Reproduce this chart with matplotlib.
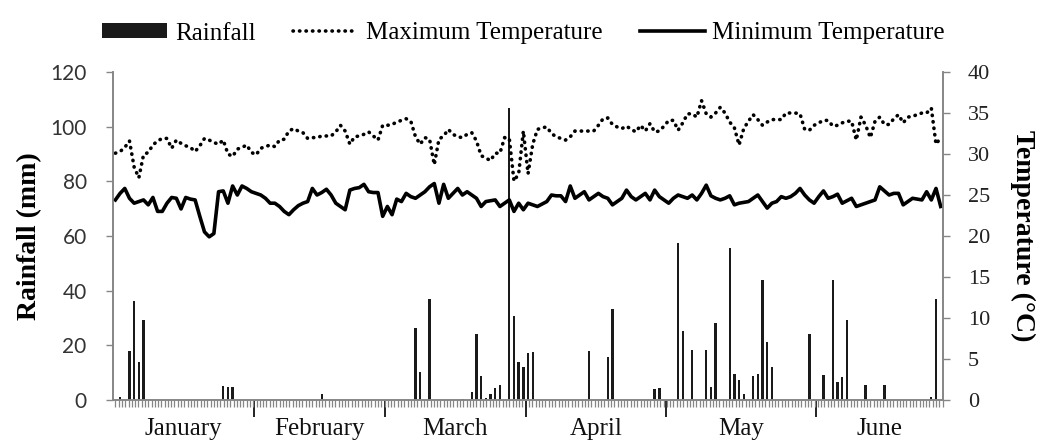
import numpy as np
import matplotlib.pyplot as plt
from matplotlib.ticker import MultipleLocator, FixedLocator

plt.rcParams['font.family'] = ['Liberation Serif', 'DejaVu Serif']

# daily temperatures (°C), day 0 = 1 January
max_temp = [30.1, 30.3, 30.8, 31.6, 28.4, 27.1, 29.9, 30.2, 31.1, 31.6,
            31.9, 31.9, 30.7, 31.7, 31.3, 31.0, 30.8, 30.3, 31.0, 31.9,
            31.7, 31.4, 31.2, 31.7, 30.0, 29.7, 30.6, 30.8, 31.1, 30.2,
            29.9, 30.7, 30.9, 31.1, 30.9, 31.7, 31.8, 32.8, 33.1, 32.8,
            32.6, 31.9, 32.0, 32.0, 32.2, 32.2, 32.2, 32.7, 33.5, 32.8,
            31.2, 32.1, 32.2, 32.4, 32.7, 32.2, 31.7, 33.5, 33.5, 33.6,
            33.9, 34.1, 34.3, 34.0, 32.1, 31.2, 32.0, 31.8, 28.7, 31.8,
            32.2, 33.0, 32.4, 32.1, 32.0, 32.4, 32.6, 31.6, 29.8, 29.5,
            29.2, 30.1, 30.1, 32.0, 31.9, 26.7, 27.6, 32.8, 27.6, 31.2,
            33.0, 33.2, 33.3, 32.5, 32.1, 31.9, 31.7, 32.1, 32.8, 32.8,
            32.8, 32.8, 32.8, 33.5, 34.3, 34.4, 33.6, 33.3, 33.1, 33.4,
            33.0, 32.7, 33.5, 32.8, 33.7, 32.7, 32.8, 33.4, 34.1, 34.1,
            32.9, 33.8, 34.9, 34.9, 34.5, 36.5, 34.9, 34.5, 35.0, 35.7,
            35.0, 33.9, 33.2, 31.1, 33.1, 34.0, 34.8, 34.2, 33.5, 33.9,
            34.2, 34.2, 34.2, 35.0, 35.0, 35.0, 34.9, 33.0, 32.9, 33.5,
            33.8, 34.1, 34.1, 33.4, 33.5, 33.8, 34.0, 34.0, 31.7, 34.5,
            33.5, 32.0, 34.0, 34.5, 33.6, 33.6, 34.3, 34.8, 33.8, 34.5,
            34.6, 34.8, 35.0, 35.0, 35.6, 31.2, 32.0]

min_temp = [24.4, 25.2, 25.8, 24.6, 24.0, 24.2, 24.4, 23.8, 24.7, 23.0,
            23.0, 24.0, 24.7, 24.6, 23.3, 24.7, 24.5, 24.4, 22.4, 20.5,
            19.9, 20.3, 25.4, 25.5, 24.0, 26.1, 25.0, 26.1, 25.8, 25.4,
            25.2, 25.0, 24.6, 24.0, 24.0, 23.6, 23.0, 22.6, 23.2, 23.7,
            24.0, 24.2, 25.8, 25.0, 25.3, 25.7, 25.0, 24.0, 23.6, 23.2,
            25.6, 25.8, 25.9, 26.3, 25.4, 25.3, 25.3, 22.4, 23.6, 22.6,
            24.5, 24.2, 25.2, 24.8, 24.6, 25.0, 25.4, 26.0, 26.4, 24.0,
            26.3, 24.6, 25.2, 25.8, 25.0, 25.4, 25.0, 24.6, 23.6, 24.2,
            24.3, 24.4, 23.6, 24.0, 24.4, 23.0, 24.0, 23.2, 24.0, 23.8,
            23.6, 23.9, 24.2, 25.0, 24.9, 24.9, 24.2, 26.1, 24.6, 25.0,
            25.4, 24.4, 24.8, 25.2, 24.8, 24.6, 23.8, 24.2, 24.6, 25.6,
            24.8, 24.4, 24.8, 25.2, 24.4, 25.6, 24.8, 24.4, 24.0, 24.6,
            25.0, 24.8, 24.6, 25.0, 24.4, 25.2, 26.2, 24.9, 24.6, 24.4,
            24.6, 24.9, 23.8, 24.0, 24.1, 24.2, 24.6, 25.0, 24.2, 23.4,
            24.0, 24.2, 24.8, 24.6, 24.8, 25.2, 25.8, 25.0, 24.4, 24.0,
            24.8, 25.5, 24.6, 24.8, 25.1, 24.0, 24.3, 24.6, 23.6, 23.8,
            24.0, 24.2, 24.4, 26.0, 25.5, 25.0, 25.2, 25.2, 23.8, 24.2,
            24.6, 24.5, 24.4, 25.4, 24.4, 25.8, 23.6]

# rainy days only (day index, mm)
rain_days = [1, 3, 4, 5, 6, 23, 24, 25, 44, 64, 65, 67, 74, 76, 77, 78, 79,
             80, 81, 82, 84, 85, 86, 87, 88, 89, 101, 105, 106, 115, 116,
             120, 121, 123, 126, 127, 128, 131, 132, 133, 134, 136, 137, 138,
             139, 140, 148, 149, 151, 153, 154, 155, 156, 160, 164, 174, 175]
rain_mm = [1.2, 18.0, 36.3, 14.0, 29.3, 5.1, 4.8, 4.8, 2.1, 26.2, 10.1, 36.8,
           0.5, 3.0, 24.0, 8.8, 0.9, 2.2, 4.5, 5.5, 107.0, 30.7, 13.8, 12.2,
           17.1, 17.7, 17.9, 15.9, 33.3, 4.0, 4.5, 57.6, 25.4, 18.3, 18.3,
           4.6, 28.3, 55.7, 9.4, 7.3, 2.2, 8.9, 9.4, 43.9, 21.1, 12.2, 24.0,
           0.5, 9.1, 43.9, 6.5, 8.3, 29.3, 5.5, 5.5, 1.2, 36.8]

months = ['January', 'February', 'March', 'April', 'May', 'June']
month_edges = [-0.5, 29.5, 57.5, 87.5, 117.5, 149.5, 176.5]

days = np.arange(len(min_temp))
grey = '#868686'

fig = plt.figure(figsize=(10.41, 4.41), dpi=100)
ax = fig.add_axes([0.1086, 0.093, 0.7973, 0.7437])
ax2 = ax.twinx()

# rainfall bars
bars = ax.bar(rain_days, rain_mm, width=0.5, color='#1a1a1a', label='Rainfall')

# temperatures
l_max, = ax2.plot(days, max_temp, color='black', linewidth=2.6,
                  linestyle=(0, (0.1, 1.7)), dash_capstyle='round',
                  label='Maximum Temperature')
l_min, = ax2.plot(days, min_temp, color='black', linewidth=2.6,
                  solid_joinstyle='round', label='Minimum Temperature')

ax.set_xlim(month_edges[0], month_edges[-1])
ax.set_ylim(0, 120)
ax2.set_ylim(0, 40)
ax.set_yticks(np.arange(0, 121, 20))
ax2.set_yticks(np.arange(0, 41, 5))

for a in (ax, ax2):
    a.spines['top'].set_visible(False)
    for s in ('left', 'right', 'bottom'):
        a.spines[s].set_color(grey)
        a.spines[s].set_linewidth(1.2)

# left axis: sans digits
ax.tick_params(axis='y', direction='out', length=5, width=1, color=grey,
               pad=14, labelsize=15, labelcolor='#333333')
for t in ax.get_yticklabels():
    t.set_family(['Lato', 'DejaVu Sans'])
ax2.tick_params(axis='y', direction='out', length=5, width=1, color=grey,
                pad=13, labelsize=16, labelcolor='#222222')

# x axis: long ticks at month edges, small ticks along the axis, names centred
ax.xaxis.set_major_locator(FixedLocator(month_edges[1:-1]))
ax.xaxis.set_minor_locator(MultipleLocator(0.7))
ax.set_xticklabels([])
ax.tick_params(axis='x', which='major', direction='out', length=12,
               width=1.4, color='#222222')
ax.tick_params(axis='x', which='minor', direction='out', length=5,
               width=0.9, color=grey)
for i, m in enumerate(months):
    mid = (month_edges[i] + month_edges[i + 1]) / 2
    ax.text(mid, -0.055, m, transform=ax.get_xaxis_transform(),
            ha='center', va='top', fontsize=18, color='#111111')

ax.set_ylabel('Rainfall (mm)', fontsize=20, fontweight='bold', va='center')
ax.yaxis.set_label_coords(-0.1, 0.5)
ax2.set_ylabel('Temperature (°C)', fontsize=20, fontweight='bold',
               rotation=270, va='center')
ax2.yaxis.set_label_coords(1.096, 0.5)

fig.legend(handles=[bars, l_max, l_min], loc='upper center',
           bbox_to_anchor=(0.503, 1.0), ncol=3, frameon=False, fontsize=18,
           handlelength=2.6, handleheight=0.55, handletextpad=0.3,
           columnspacing=1.5)

fig.savefig('out.png', dpi=100)
